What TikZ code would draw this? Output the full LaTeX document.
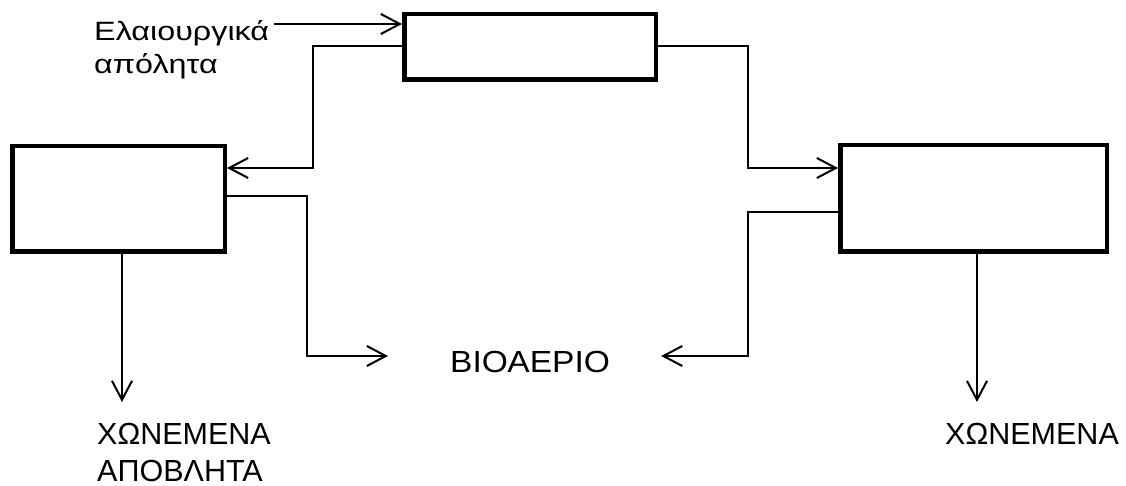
\documentclass[tikz,border=0pt]{standalone}
\usepackage{fontspec}
\setmainfont{Liberation Sans}
\newfontfamily\widefont[FakeStretch=1.22]{Liberation Sans}
\newfontfamily\gasfont[FakeStretch=1.1]{Liberation Sans}
\usetikzlibrary{arrows.meta}
\begin{document}
\begin{tikzpicture}[x=1pt,y=-1pt,
  unit/.style={draw,line width=4.5pt,minimum width=#1},
  flow/.style={line width=2pt},
  arr/.style={flow,-{Straight Barb[length=19pt,width=20pt,line width=2pt]}},
  lbl/.style={inner sep=0pt,font=\fontsize{30.5}{37}\selectfont},
  feedlbl/.style={inner sep=0pt,font=\widefont\fontsize{26.5}{33}\selectfont}]
\useasboundingbox (0,0) rectangle (1126,486);
% process units
\node[unit=251.5pt,minimum height=65.5pt] (top) at (530,47) {};
\node[unit=212.5pt,minimum height=105.5pt] (lb) at (118.5,199) {};
\node[unit=266.5pt,minimum height=106.5pt] (rb) at (973.5,198.5) {};
% labels
\node[feedlbl,anchor=north west,align=left] (feed) at (94,20) {Ελαιουργικά\\απόλητα};
\node[lbl,font=\gasfont\fontsize{30.5}{37}\selectfont,anchor=base west] (bio) at (450,372) {ΒΙΟΑΕΡΙΟ};
\node[lbl,anchor=north west,align=left] (wasteL) at (97,423) {ΧΩΝΕΜΕΝΑ\\ΑΠΟΒΛΗΤΑ};
\node[lbl,anchor=north west] (wasteR) at (945,423) {ΧΩΝΕΜΕΝΑ};
% connector end points
\coordinate (inY) at ([yshift=23pt]top.west);
\coordinate (bioL) at ([xshift=-62pt]bio.west |- 0,356);
\coordinate (bioR) at ([xshift=51pt]bio.east |- 0,356);
% connectors
\draw[arr] ([xshift=5pt]feed.east |- inY) -- (inY);
\draw[arr] ([yshift=1pt]top.west) -- ++(-89pt,0) |- ([yshift=31pt]lb.east);
\draw[arr] ([yshift=1pt]top.east) -- ++(90pt,0) |- ([yshift=30.5pt]rb.west);
\draw[arr] ([yshift=3pt]lb.east) -- ++(80pt,0) |- (bioL);
\draw[arr] ([yshift=-13.5pt]rb.west) -- ++(-90pt,0) |- (bioR);
\draw[arr] ([xshift=3.5pt]lb.south) -- ([xshift=3.5pt]lb.south |- 0,402);
\draw[arr] ([xshift=3.5pt]rb.south) -- ([xshift=3.5pt]rb.south |- 0,402);
\end{tikzpicture}
\end{document}
